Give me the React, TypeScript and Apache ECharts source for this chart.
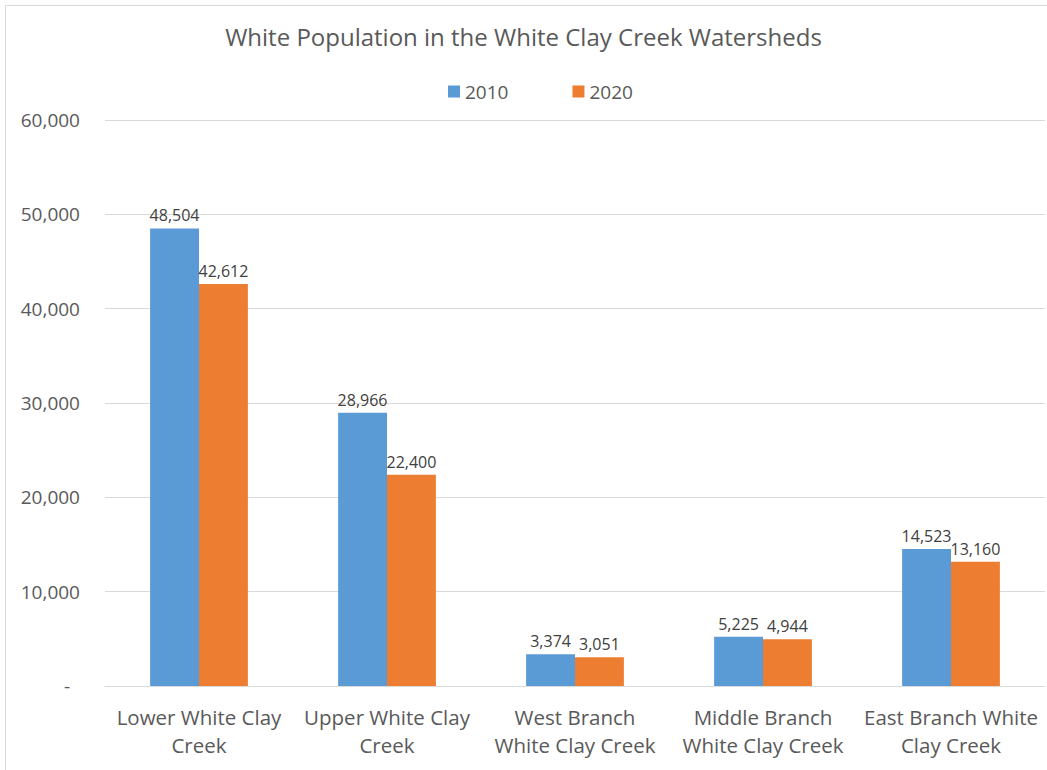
import React, { useEffect, useRef } from "react";
import * as echarts from "echarts";

const categories = [
  "Lower White Clay\nCreek",
  "Upper White Clay\nCreek",
  "West Branch\nWhite Clay Creek",
  "Middle Branch\nWhite Clay Creek",
  "East Branch White\nClay Creek",
];
const values2010 = [48504, 28966, 3374, 5225, 14523];
const values2020 = [42612, 22400, 3051, 4944, 13160];
const FONT = "'Open Sans', 'Noto Sans', sans-serif";

export default function App() {
  const ref = useRef<HTMLDivElement>(null);
  useEffect(() => {
    document.body.style.margin = "0";
    const chart = echarts.init(ref.current!, null, { renderer: "svg" });
    const fmt = (v: number) => v.toLocaleString("en-US");
    chart.setOption({
      animation: false,
      textStyle: { fontFamily: FONT },
      title: {
        text: "White Population in the White Clay Creek Watersheds",
        left: "center",
        top: 19,
        textStyle: { fontFamily: FONT, fontSize: 24, fontWeight: "normal", color: "#595959" },
      },
      legend: {
        top: 77,
        left: 443,
        itemWidth: 12,
        itemHeight: 12,
        itemGap: 64,
        icon: "rect",
        textStyle: { fontFamily: FONT, fontSize: 19, color: "#595959" },
      },
      graphic: [
        {
          type: "rect",
          shape: { x: 5.5, y: 5.5, width: 1100, height: 800 },
          style: { fill: "none", stroke: "#d9d9d9", lineWidth: 1 },
          silent: true,
        },
      ],
      grid: { left: 105, right: 2, top: 120, bottom: 84 },
      xAxis: {
        type: "category",
        data: categories,
        axisLine: { lineStyle: { color: "#d9d9d9" } },
        axisTick: { show: false },
        axisLabel: {
          fontFamily: FONT,
          fontSize: 20.5,
          color: "#595959",
          margin: 17,
          lineHeight: 28,
          interval: 0,
        },
      },
      yAxis: {
        type: "value",
        min: 0,
        max: 60000,
        interval: 10000,
        axisLine: { show: false },
        axisTick: { show: false },
        splitLine: { lineStyle: { color: "#d9d9d9" } },
        axisLabel: {
          fontFamily: FONT,
          fontSize: 19,
          color: "#595959",
          margin: 25,
          formatter: (v: number) => (v === 0 ? "{d|-}" : fmt(v)),
          rich: { d: { fontFamily: FONT, fontSize: 19, color: "#595959", padding: [0, 10, 0, 0] } },
        },
      },
      series: [
        {
          name: "2010",
          type: "bar",
          data: values2010,
          itemStyle: { color: "#5b9bd5" },
          barGap: "0%",
          barCategoryGap: "48%",
          label: {
            show: true,
            position: "top",
            fontFamily: FONT,
            fontSize: 16,
            color: "#404040",
            formatter: (p: any) => fmt(p.value),
          },
        },
        {
          name: "2020",
          type: "bar",
          data: values2020,
          itemStyle: { color: "#ed7d31" },
          barGap: "0%",
          barCategoryGap: "48%",
          label: {
            show: true,
            position: "top",
            fontFamily: FONT,
            fontSize: 16,
            color: "#404040",
            formatter: (p: any) => fmt(p.value),
          },
        },
      ],
    });
    return () => chart.dispose();
  }, []);
  return (
    <div
      ref={ref}
      style={{ position: "absolute", left: 0, top: 0, width: 1047, height: 770, background: "#fff" }}
    />
  );
}
